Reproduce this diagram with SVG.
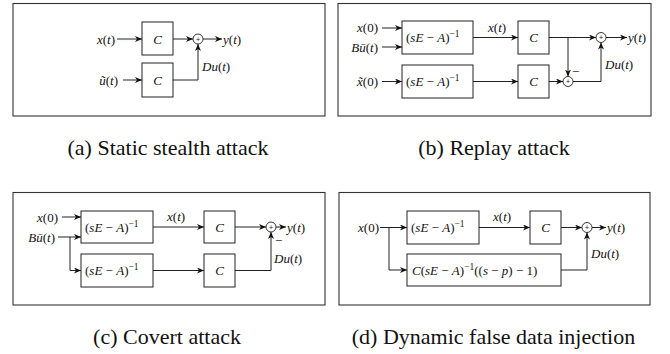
<svg xmlns="http://www.w3.org/2000/svg" width="670" height="354" viewBox="0 0 670 354">
<style>
.box{fill:#fff;stroke:#222;stroke-width:1}
.sum{fill:#fff;stroke:#222;stroke-width:0.9}
.frame{fill:none;stroke:#333;stroke-width:1.1}
</style>
<defs>
<marker id="ah" viewBox="0 0 7 6" refX="7" refY="3" markerWidth="7" markerHeight="6" orient="auto" markerUnits="userSpaceOnUse">
<path d="M0,0 L7,3 L0,6 L2,3 z" fill="#111"/>
</marker>
</defs>
<rect width="670" height="354" fill="#fff"/>

<g id="panel-a">
<rect class="frame" x="13" y="3.5" width="312" height="112.5"/>
<g id="a-connectors" fill="none" stroke="#222" stroke-width="1" marker-end="url(#ah)">
<line x1="117" y1="39" x2="142" y2="39"/>
<line x1="173" y1="39" x2="193" y2="39"/>
<line x1="203" y1="39" x2="222" y2="39"/>
<line x1="123" y1="80" x2="142" y2="80"/>
<path d="M173,80 H198 V44"/>
</g>
<g id="a-in-x"><text font-family="Liberation Serif, Times New Roman, serif" font-size="13" fill="#111" text-anchor="end" x="115" y="43.5"><tspan font-style="italic">x</tspan>(<tspan font-style="italic">t</tspan>)</text></g>
<g id="a-in-u"><text font-family="Liberation Serif, Times New Roman, serif" font-size="13" fill="#111" text-anchor="end" x="118" y="84.5"><tspan font-style="italic">&#x169;</tspan>(<tspan font-style="italic">t</tspan>)</text></g>
<g id="a-C1"><rect class="box" x="142" y="22" width="31" height="33"/><text font-family="Liberation Serif, Times New Roman, serif" font-size="13" fill="#111" font-style="italic" text-anchor="middle" x="157.5" y="43.5">C</text></g>
<g id="a-C2"><rect class="box" x="142" y="63" width="31" height="34"/><text font-family="Liberation Serif, Times New Roman, serif" font-size="13" fill="#111" font-style="italic" text-anchor="middle" x="157.5" y="84.5">C</text></g>
<g id="a-sum"><circle class="sum" cx="198" cy="39" r="5"/><text font-family="Liberation Sans, Arial, sans-serif" font-size="7" fill="#111" text-anchor="middle" x="198" y="41.5">+</text></g>
<g id="a-out"><text font-family="Liberation Serif, Times New Roman, serif" font-size="13" fill="#111" x="223" y="43.5"><tspan font-style="italic">y</tspan>(<tspan font-style="italic">t</tspan>)</text></g>
<g id="a-du"><text font-family="Liberation Serif, Times New Roman, serif" font-size="13" fill="#111" x="202" y="71"><tspan font-style="italic">Du</tspan>(<tspan font-style="italic">t</tspan>)</text></g>
<text font-family="Liberation Serif, Times New Roman, serif" font-size="22" fill="#111" text-anchor="middle" x="168" y="155">(a) Static stealth attack</text>
</g>

<g id="panel-b">
<rect class="frame" x="338" y="3.5" width="313" height="112.5"/>
<g id="b-connectors" fill="none" stroke="#222" stroke-width="1" marker-end="url(#ah)">
<line x1="382" y1="28" x2="402" y2="28"/>
<line x1="382" y1="47" x2="402" y2="47"/>
<line x1="382" y1="81.5" x2="402" y2="81.5"/>
<line x1="473" y1="37.5" x2="518" y2="37.5"/>
<line x1="473" y1="81.5" x2="518" y2="81.5"/>
<line x1="549" y1="37.5" x2="596" y2="37.5"/>
<line x1="568" y1="37.5" x2="568" y2="76.5"/>
<line x1="549" y1="81.5" x2="563" y2="81.5"/>
<path d="M573,81.5 H601 V42.5"/>
<line x1="606" y1="37.5" x2="627" y2="37.5"/>
</g>
<g id="b-in-x0"><text font-family="Liberation Serif, Times New Roman, serif" font-size="13" fill="#111" text-anchor="end" x="378" y="32"><tspan font-style="italic">x</tspan>(0)</text></g>
<g id="b-in-bu"><text font-family="Liberation Serif, Times New Roman, serif" font-size="13" fill="#111" text-anchor="end" x="378" y="51.5"><tspan font-style="italic">B&#x16B;</tspan>(<tspan font-style="italic">t</tspan>)</text></g>
<g id="b-in-xt0"><text font-family="Liberation Serif, Times New Roman, serif" font-size="13" fill="#111" text-anchor="end" x="378" y="86"><tspan font-style="italic">x&#x303;</tspan>(0)</text></g>
<g id="b-G1"><rect class="box" x="402" y="21" width="71" height="33"/><text font-family="Liberation Serif, Times New Roman, serif" font-size="13" fill="#111" x="406" y="42">(<tspan font-style="italic">sE</tspan> &#x2212; <tspan font-style="italic">A</tspan>)<tspan dy="-5" font-size="9.5">&#x2212;1</tspan></text></g>
<g id="b-G2"><rect class="box" x="402" y="65" width="71" height="33"/><text font-family="Liberation Serif, Times New Roman, serif" font-size="13" fill="#111" x="406" y="86">(<tspan font-style="italic">sE</tspan> &#x2212; <tspan font-style="italic">A</tspan>)<tspan dy="-5" font-size="9.5">&#x2212;1</tspan></text></g>
<g id="b-xt"><text font-family="Liberation Serif, Times New Roman, serif" font-size="13" fill="#111" x="488" y="31.5"><tspan font-style="italic">x</tspan>(<tspan font-style="italic">t</tspan>)</text></g>
<g id="b-C1"><rect class="box" x="518" y="21" width="31" height="33"/><text font-family="Liberation Serif, Times New Roman, serif" font-size="13" fill="#111" font-style="italic" text-anchor="middle" x="533.5" y="42">C</text></g>
<g id="b-C2"><rect class="box" x="518" y="65" width="31" height="33"/><text font-family="Liberation Serif, Times New Roman, serif" font-size="13" fill="#111" font-style="italic" text-anchor="middle" x="533.5" y="86">C</text></g>
<g id="b-sum1"><circle class="sum" cx="601" cy="37.5" r="5"/><text font-family="Liberation Sans, Arial, sans-serif" font-size="7" fill="#111" text-anchor="middle" x="601" y="40">+</text></g>
<g id="b-sum2"><circle class="sum" cx="568" cy="81.5" r="5"/><text font-family="Liberation Sans, Arial, sans-serif" font-size="7" fill="#111" text-anchor="middle" x="568" y="84">+</text></g>
<g id="b-minus"><text font-family="Liberation Serif, Times New Roman, serif" font-size="13" fill="#111" x="572" y="76">&#x2212;</text></g>
<g id="b-out"><text font-family="Liberation Serif, Times New Roman, serif" font-size="13" fill="#111" x="628" y="42"><tspan font-style="italic">y</tspan>(<tspan font-style="italic">t</tspan>)</text></g>
<g id="b-du"><text font-family="Liberation Serif, Times New Roman, serif" font-size="13" fill="#111" x="605" y="68.5"><tspan font-style="italic">Du</tspan>(<tspan font-style="italic">t</tspan>)</text></g>
<text font-family="Liberation Serif, Times New Roman, serif" font-size="22" fill="#111" text-anchor="middle" x="494" y="155">(b) Replay attack</text>
</g>

<g id="panel-c">
<rect class="frame" x="13" y="192.5" width="312" height="112.5"/>
<g id="c-connectors" fill="none" stroke="#222" stroke-width="1" marker-end="url(#ah)">
<line x1="62" y1="217" x2="81" y2="217"/>
<line x1="58" y1="237" x2="81" y2="237"/>
<path d="M70,237 V270.5 H81"/>
<line x1="153" y1="227" x2="204" y2="227"/>
<line x1="153" y1="270.5" x2="204" y2="270.5"/>
<line x1="235" y1="227" x2="266" y2="227"/>
<line x1="276" y1="227" x2="286" y2="227"/>
<path d="M235,270.5 H271 V232"/>
</g>
<g id="c-in-x0"><text font-family="Liberation Serif, Times New Roman, serif" font-size="13" fill="#111" text-anchor="end" x="58" y="221.5"><tspan font-style="italic">x</tspan>(0)</text></g>
<g id="c-in-bu"><text font-family="Liberation Serif, Times New Roman, serif" font-size="13" fill="#111" text-anchor="end" x="55" y="241.5"><tspan font-style="italic">B&#x16B;</tspan>(<tspan font-style="italic">t</tspan>)</text></g>
<g id="c-G1"><rect class="box" x="81" y="211" width="72" height="32"/><text font-family="Liberation Serif, Times New Roman, serif" font-size="13" fill="#111" x="85" y="231.5">(<tspan font-style="italic">sE</tspan> &#x2212; <tspan font-style="italic">A</tspan>)<tspan dy="-5" font-size="9.5">&#x2212;1</tspan></text></g>
<g id="c-G2"><rect class="box" x="81" y="254" width="72" height="33"/><text font-family="Liberation Serif, Times New Roman, serif" font-size="13" fill="#111" x="85" y="275">(<tspan font-style="italic">sE</tspan> &#x2212; <tspan font-style="italic">A</tspan>)<tspan dy="-5" font-size="9.5">&#x2212;1</tspan></text></g>
<g id="c-xt"><text font-family="Liberation Serif, Times New Roman, serif" font-size="13" fill="#111" x="167" y="221"><tspan font-style="italic">x</tspan>(<tspan font-style="italic">t</tspan>)</text></g>
<g id="c-C1"><rect class="box" x="204" y="211" width="31" height="32"/><text font-family="Liberation Serif, Times New Roman, serif" font-size="13" fill="#111" font-style="italic" text-anchor="middle" x="219.5" y="231.5">C</text></g>
<g id="c-C2"><rect class="box" x="204" y="254" width="31" height="33"/><text font-family="Liberation Serif, Times New Roman, serif" font-size="13" fill="#111" font-style="italic" text-anchor="middle" x="219.5" y="275">C</text></g>
<g id="c-sum"><circle class="sum" cx="271" cy="227" r="5"/><text font-family="Liberation Sans, Arial, sans-serif" font-size="7" fill="#111" text-anchor="middle" x="271" y="229.5">+</text></g>
<g id="c-minus"><text font-family="Liberation Serif, Times New Roman, serif" font-size="13" fill="#111" x="275" y="245">&#x2212;</text></g>
<g id="c-out"><text font-family="Liberation Serif, Times New Roman, serif" font-size="13" fill="#111" x="287" y="231.5"><tspan font-style="italic">y</tspan>(<tspan font-style="italic">t</tspan>)</text></g>
<g id="c-du"><text font-family="Liberation Serif, Times New Roman, serif" font-size="13" fill="#111" x="274" y="262.5"><tspan font-style="italic">Du</tspan>(<tspan font-style="italic">t</tspan>)</text></g>
<text font-family="Liberation Serif, Times New Roman, serif" font-size="22" fill="#111" text-anchor="middle" x="167" y="344">(c) Covert attack</text>
</g>

<g id="panel-d">
<rect class="frame" x="339" y="192.5" width="311" height="112.5"/>
<g id="d-connectors" fill="none" stroke="#222" stroke-width="1" marker-end="url(#ah)">
<line x1="380" y1="227.5" x2="407" y2="227.5"/>
<path d="M389,227.5 V270 H407"/>
<line x1="479" y1="227.5" x2="530" y2="227.5"/>
<line x1="561" y1="227.5" x2="582" y2="227.5"/>
<line x1="592" y1="227.5" x2="606" y2="227.5"/>
<path d="M561,270 H587 V232.5"/>
</g>
<g id="d-in-x0"><text font-family="Liberation Serif, Times New Roman, serif" font-size="13" fill="#111" text-anchor="end" x="379" y="232"><tspan font-style="italic">x</tspan>(0)</text></g>
<g id="d-G1"><rect class="box" x="407" y="211" width="72" height="33"/><text font-family="Liberation Serif, Times New Roman, serif" font-size="13" fill="#111" x="411" y="232">(<tspan font-style="italic">sE</tspan> &#x2212; <tspan font-style="italic">A</tspan>)<tspan dy="-5" font-size="9.5">&#x2212;1</tspan></text></g>
<g id="d-G2"><rect class="box" x="407" y="254" width="154" height="32"/><text font-family="Liberation Serif, Times New Roman, serif" font-size="13" fill="#111" x="412" y="275"><tspan font-style="italic">C</tspan>(<tspan font-style="italic">sE</tspan> &#x2212; <tspan font-style="italic">A</tspan>)<tspan dy="-5" font-size="9.5">&#x2212;1</tspan><tspan dy="5">(</tspan>(<tspan font-style="italic">s</tspan> &#x2212; <tspan font-style="italic">p</tspan>) &#x2212; 1)</text></g>
<g id="d-xt"><text font-family="Liberation Serif, Times New Roman, serif" font-size="13" fill="#111" x="493" y="221"><tspan font-style="italic">x</tspan>(<tspan font-style="italic">t</tspan>)</text></g>
<g id="d-C"><rect class="box" x="530" y="211" width="31" height="33"/><text font-family="Liberation Serif, Times New Roman, serif" font-size="13" fill="#111" font-style="italic" text-anchor="middle" x="545.5" y="232">C</text></g>
<g id="d-sum"><circle class="sum" cx="587" cy="227.5" r="5"/><text font-family="Liberation Sans, Arial, sans-serif" font-size="7" fill="#111" text-anchor="middle" x="587" y="230">+</text></g>
<g id="d-out"><text font-family="Liberation Serif, Times New Roman, serif" font-size="13" fill="#111" x="607" y="232"><tspan font-style="italic">y</tspan>(<tspan font-style="italic">t</tspan>)</text></g>
<g id="d-du"><text font-family="Liberation Serif, Times New Roman, serif" font-size="13" fill="#111" x="591" y="257.5"><tspan font-style="italic">Du</tspan>(<tspan font-style="italic">t</tspan>)</text></g>
<text font-family="Liberation Serif, Times New Roman, serif" font-size="22" fill="#111" text-anchor="middle" x="493.5" y="344">(d) Dynamic false data injection</text>
</g>
</svg>
